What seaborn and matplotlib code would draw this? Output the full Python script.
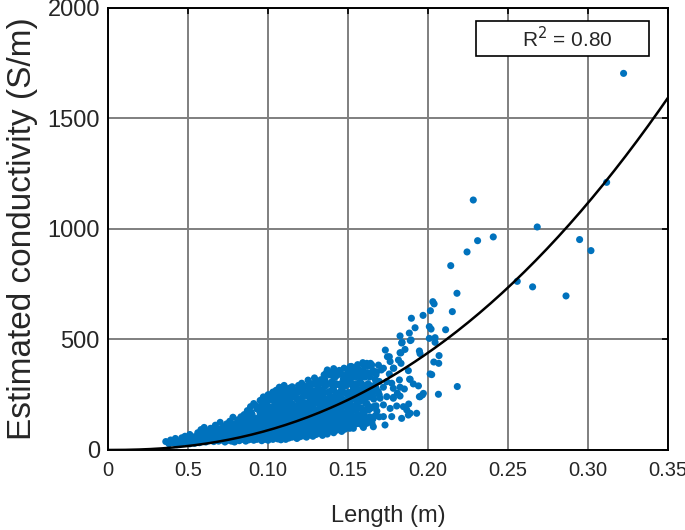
import numpy as np
import pandas as pd
import matplotlib
matplotlib.use("Agg")
import matplotlib.pyplot as plt
import seaborn as sns
from matplotlib.patches import Rectangle

# --- data (length in m, conductivity in S/m) ---
pts_short = [
    (0.036, 38), (0.038, 28), (0.039, 45), (0.041, 32), (0.042, 52), (0.043, 24), (0.044, 40),
    (0.046, 30), (0.046, 55), (0.047, 42), (0.048, 62), (0.049, 35), (0.050, 48), (0.051, 28),
    (0.051, 70), (0.052, 52), (0.053, 38), (0.054, 60), (0.054, 30),
    (0.056, 44), (0.056, 78), (0.057, 33), (0.057, 58), (0.058, 92), (0.059, 40), (0.059, 66),
    (0.060, 50), (0.060, 102), (0.061, 36), (0.061, 74), (0.062, 56), (0.062, 85), (0.063, 42),
    (0.063, 64), (0.064, 98), (0.064, 50), (0.065, 72),
    (0.066, 38), (0.066, 60), (0.066, 88), (0.067, 48), (0.067, 112), (0.068, 70), (0.068, 54),
    (0.069, 95), (0.069, 40), (0.070, 78), (0.070, 62), (0.070, 125), (0.071, 45), (0.071, 86),
    (0.072, 58), (0.072, 105), (0.073, 36), (0.073, 68), (0.073, 92), (0.074, 52), (0.074, 118),
    (0.074, 76), (0.075, 44), (0.075, 100),
    (0.076, 58), (0.076, 84), (0.076, 130), (0.077, 40), (0.077, 66), (0.077, 108), (0.078, 50),
    (0.078, 90), (0.078, 148), (0.079, 72), (0.079, 36), (0.079, 118), (0.080, 60), (0.080, 96),
    (0.080, 46), (0.081, 80), (0.081, 136), (0.081, 64), (0.082, 42), (0.082, 104), (0.082, 88),
    (0.083, 56), (0.083, 150), (0.083, 74), (0.084, 98), (0.084, 48), (0.084, 122), (0.084, 68),
    (0.085, 84), (0.085, 160), (0.085, 54), (0.085, 110),
]

pts_mid = [
    (0.086, 40), (0.086, 66), (0.086, 94), (0.086, 138), (0.087, 52), (0.087, 78), (0.087, 116),
    (0.087, 178), (0.088, 60), (0.088, 88), (0.088, 150), (0.088, 46), (0.089, 72), (0.089, 104),
    (0.089, 196), (0.089, 128), (0.090, 56), (0.090, 84), (0.090, 64), (0.090, 160), (0.091, 44),
    (0.091, 96), (0.091, 120), (0.091, 210), (0.092, 70), (0.092, 58), (0.092, 142), (0.092, 90),
    (0.093, 48), (0.093, 110), (0.093, 80), (0.093, 186), (0.094, 62), (0.094, 132), (0.094, 100),
    (0.094, 74), (0.095, 52), (0.095, 168), (0.095, 88), (0.095, 224),
    (0.096, 42), (0.096, 70), (0.096, 112), (0.096, 150), (0.096, 200), (0.097, 58), (0.097, 92),
    (0.097, 130), (0.097, 240), (0.098, 48), (0.098, 80), (0.098, 104), (0.098, 176), (0.098, 66),
    (0.099, 60), (0.099, 122), (0.099, 214), (0.099, 96), (0.099, 140), (0.100, 44), (0.100, 76),
    (0.100, 160), (0.100, 250), (0.100, 108), (0.101, 54), (0.101, 88), (0.101, 132), (0.101, 190),
    (0.101, 70), (0.102, 62), (0.102, 100), (0.102, 226), (0.102, 150), (0.102, 118), (0.103, 48),
    (0.103, 84), (0.103, 170), (0.103, 262), (0.103, 136), (0.104, 58), (0.104, 96), (0.104, 204),
    (0.104, 74), (0.104, 124), (0.105, 66), (0.105, 112), (0.105, 182), (0.105, 270),
    (0.106, 50), (0.106, 88), (0.106, 140), (0.106, 236), (0.106, 72),
    (0.107, 60), (0.107, 104), (0.107, 166), (0.107, 284), (0.107, 126),
    (0.108, 46), (0.108, 80), (0.108, 150), (0.108, 212), (0.108, 96),
    (0.109, 66), (0.109, 118), (0.109, 180), (0.109, 258), (0.109, 84),
    (0.110, 56), (0.110, 100), (0.110, 136), (0.110, 292), (0.110, 200),
    (0.111, 72), (0.111, 92), (0.111, 160), (0.111, 240), (0.111, 48),
    (0.112, 62), (0.112, 112), (0.112, 188), (0.112, 276), (0.112, 130),
    (0.113, 78), (0.113, 98), (0.113, 150), (0.113, 222), (0.113, 54),
    (0.114, 68), (0.114, 120), (0.114, 174), (0.114, 264), (0.114, 88),
    (0.115, 58), (0.115, 106), (0.115, 144), (0.115, 208), (0.115, 286),
    (0.116, 74), (0.116, 94), (0.116, 162), (0.116, 246), (0.116, 124),
    (0.117, 64), (0.117, 112), (0.117, 190), (0.117, 270), (0.117, 84),
    (0.118, 52), (0.118, 138), (0.118, 228), (0.119, 100), (0.119, 172), (0.119, 292),
]

pts_long = [
    (0.120, 60), (0.120, 96), (0.120, 150), (0.120, 230), (0.120, 118),
    (0.121, 72), (0.121, 130), (0.121, 196), (0.121, 302), (0.121, 88),
    (0.122, 64), (0.122, 108), (0.122, 168), (0.122, 260), (0.122, 140),
    (0.123, 80), (0.123, 120), (0.123, 214), (0.123, 288), (0.123, 98),
    (0.124, 58), (0.124, 154), (0.124, 184), (0.124, 246), (0.124, 112),
    (0.125, 76), (0.125, 128), (0.125, 200), (0.125, 316), (0.125, 92),
    (0.126, 68), (0.126, 144), (0.126, 170), (0.126, 272), (0.126, 104),
    (0.127, 84), (0.127, 118), (0.127, 226), (0.127, 300), (0.127, 158),
    (0.128, 62), (0.128, 136), (0.128, 190), (0.128, 256), (0.128, 98),
    (0.129, 90), (0.129, 124), (0.129, 176), (0.129, 326), (0.129, 212),
    (0.130, 70), (0.130, 150), (0.130, 236), (0.130, 110), (0.131, 86), (0.131, 162),
    (0.131, 284), (0.132, 76), (0.132, 130), (0.132, 204), (0.133, 96), (0.133, 182),
    (0.133, 318), (0.134, 66), (0.134, 144), (0.134, 250),
    (0.135, 80), (0.135, 116), (0.135, 172), (0.135, 230), (0.135, 340),
    (0.136, 94), (0.136, 140), (0.136, 196), (0.136, 290),
    (0.137, 72), (0.137, 126), (0.137, 214), (0.137, 362), (0.137, 160),
    (0.138, 104), (0.138, 148), (0.138, 262), (0.138, 186),
    (0.139, 86), (0.139, 132), (0.139, 240), (0.139, 350), (0.139, 112),
    (0.140, 98), (0.140, 170), (0.140, 206), (0.140, 310),
    (0.141, 78), (0.141, 124), (0.141, 150), (0.141, 270), (0.141, 368),
    (0.142, 108), (0.142, 190), (0.142, 226), (0.142, 330),
    (0.143, 90), (0.143, 138), (0.143, 176), (0.143, 252),
    (0.144, 116), (0.144, 160), (0.144, 296), (0.144, 212),
    (0.145, 100), (0.145, 144), (0.145, 238), (0.145, 356),
    (0.146, 84), (0.146, 126), (0.146, 198), (0.146, 276),
    (0.147, 110), (0.147, 168), (0.147, 320), (0.148, 94), (0.148, 222), (0.149, 150),
    (0.150, 120), (0.150, 182), (0.150, 260), (0.150, 360),
    (0.151, 98), (0.151, 146), (0.151, 214), (0.151, 320),
    (0.152, 130), (0.152, 236), (0.152, 378), (0.152, 170),
    (0.153, 108), (0.153, 196), (0.153, 286), (0.154, 140), (0.154, 250), (0.154, 344),
    (0.155, 118), (0.155, 178), (0.155, 300), (0.156, 156), (0.156, 226), (0.156, 386),
    (0.157, 128), (0.157, 270), (0.158, 190), (0.158, 330), (0.159, 110), (0.159, 244),
    (0.160, 160), (0.160, 384), (0.161, 210), (0.161, 290), (0.162, 136), (0.162, 350),
    (0.163, 182), (0.164, 260), (0.164, 392), (0.165, 120), (0.166, 230), (0.167, 318),
    (0.168, 176), (0.169, 384),
]

# extra points in the densest part of the cloud
pts_dense = [
    (0.0805, 70), (0.0805, 112), (0.0835, 62), (0.0835, 128), (0.0865, 84), (0.0865, 104),
    (0.0875, 140), (0.0875, 66), (0.0895, 90), (0.0895, 170), (0.0905, 110), (0.0905, 134),
    (0.0925, 76), (0.0925, 124), (0.0925, 200), (0.0945, 90), (0.0945, 150), (0.0945, 180),
    (0.0965, 84), (0.0965, 124), (0.0965, 176), (0.0975, 70), (0.0975, 110), (0.0975, 206),
    (0.0985, 92), (0.0985, 152), (0.0985, 228), (0.0995, 74), (0.0995, 182),
    (0.1005, 96), (0.1005, 124), (0.1005, 196), (0.1005, 230), (0.1015, 110), (0.1015, 160),
    (0.1015, 250), (0.1025, 80), (0.1025, 134), (0.1025, 180), (0.1035, 100), (0.1035, 150),
    (0.1035, 236), (0.1045, 86), (0.1045, 140), (0.1045, 246), (0.1055, 124), (0.1055, 160),
    (0.1055, 220), (0.1065, 104), (0.1065, 186), (0.1065, 262), (0.1075, 90), (0.1075, 140),
    (0.1075, 200), (0.1085, 112), (0.1085, 172), (0.1085, 240), (0.1095, 100), (0.1095, 150),
    (0.1095, 276), (0.1105, 80), (0.1105, 120), (0.1105, 176), (0.1105, 220), (0.1115, 110),
    (0.1115, 140), (0.1115, 204), (0.1125, 90), (0.1125, 160), (0.1125, 250), (0.1135, 126),
    (0.1135, 190), (0.1135, 280), (0.1145, 104), (0.1145, 140), (0.1145, 236), (0.1155, 82),
    (0.1155, 126), (0.1155, 180), (0.1165, 110), (0.1165, 200), (0.1165, 270), (0.1175, 96),
    (0.1175, 150), (0.1175, 236), (0.1185, 76), (0.1185, 120), (0.1185, 180), (0.1185, 260),
    (0.1195, 86), (0.1195, 140), (0.1195, 210), (0.1205, 106), (0.1205, 176), (0.1205, 270),
    (0.1215, 110), (0.1215, 160), (0.1215, 240), (0.1225, 90), (0.1225, 190), (0.1225, 290),
    (0.1235, 140), (0.1235, 170), (0.1235, 260), (0.1245, 96), (0.1245, 130), (0.1245, 210),
    (0.1255, 110), (0.1255, 160), (0.1255, 240), (0.1255, 290), (0.1265, 124), (0.1265, 190),
    (0.1265, 250), (0.1275, 100), (0.1275, 140), (0.1275, 200), (0.1275, 270), (0.1285, 114),
    (0.1285, 160), (0.1285, 230), (0.1285, 300), (0.1295, 106), (0.1295, 150), (0.1295, 256),
    (0.1305, 90), (0.1305, 130), (0.1305, 180), (0.1305, 270), (0.1305, 310), (0.1315, 110),
    (0.1315, 140), (0.1315, 210), (0.1315, 240), (0.1325, 100), (0.1325, 160), (0.1325, 256),
    (0.1325, 300), (0.1335, 120), (0.1335, 150), (0.1335, 220), (0.1335, 270), (0.1345, 90),
    (0.1345, 180), (0.1345, 210), (0.1345, 300), (0.1355, 104), (0.1355, 150), (0.1355, 260),
    (0.1355, 320), (0.1365, 120), (0.1365, 170), (0.1365, 230), (0.1365, 350), (0.1375, 100),
    (0.1375, 190), (0.1375, 260), (0.1375, 300), (0.1385, 120), (0.1385, 166), (0.1385, 220),
    (0.1385, 340), (0.1395, 150), (0.1395, 190), (0.1395, 270), (0.1395, 300), (0.1405, 120),
    (0.1405, 140), (0.1405, 240), (0.1405, 340), (0.1415, 100), (0.1415, 200), (0.1415, 290),
    (0.1415, 360), (0.1425, 130), (0.1425, 160), (0.1425, 250), (0.1425, 300), (0.1435, 110),
    (0.1435, 200), (0.1435, 230), (0.1435, 340), (0.1445, 136), (0.1445, 180), (0.1445, 260),
    (0.1445, 360), (0.1455, 120), (0.1455, 190), (0.1455, 300), (0.1465, 100), (0.1465, 160),
    (0.1465, 230), (0.1465, 340), (0.1475, 130), (0.1475, 200), (0.1475, 260), (0.1475, 370),
    (0.1485, 120), (0.1485, 170), (0.1485, 290), (0.1485, 340), (0.1495, 110), (0.1495, 200),
    (0.1495, 250), (0.1495, 310), (0.1505, 140), (0.1505, 230), (0.1505, 300), (0.1505, 340),
    (0.1515, 170), (0.1515, 260), (0.1515, 350), (0.1525, 110), (0.1525, 200), (0.1525, 300),
    (0.1535, 150), (0.1535, 230), (0.1535, 330), (0.1545, 180), (0.1545, 280), (0.1545, 370),
    (0.1555, 140), (0.1555, 210), (0.1555, 260), (0.1565, 120), (0.1565, 190), (0.1565, 300),
    (0.1565, 350), (0.1575, 160), (0.1575, 220), (0.1575, 360), (0.1585, 130), (0.1585, 250),
    (0.1585, 300), (0.1595, 180), (0.1595, 280), (0.1595, 360), (0.1605, 140), (0.1605, 230),
    (0.1605, 330), (0.1615, 120), (0.1615, 180), (0.1615, 250), (0.1625, 200), (0.1625, 300),
    (0.1625, 380), (0.1635, 150), (0.1635, 240), (0.1635, 330), (0.1645, 190), (0.1645, 290),
    (0.1655, 140), (0.1655, 260), (0.1655, 360), (0.1675, 200), (0.1675, 280), (0.1675, 340),
    (0.1695, 150), (0.1695, 250), (0.1695, 310),
]

pts_tail = [
    (0.1592, 395), (0.1617, 392), (0.1648, 385), (0.1558, 380), (0.1513, 377), (0.1533, 362),
    (0.1721, 370), (0.1679, 354), (0.1638, 347), (0.1596, 339), (0.1783, 370), (0.1758, 344),
    (0.1554, 332), (0.1575, 309), (0.1513, 317), (0.1742, 309), (0.1773, 302), (0.1821, 317),
    (0.1825, 284), (0.1783, 279), (0.1721, 284), (0.1888, 320), (0.1940, 290), (0.1669, 294),
    (0.1638, 279), (0.1606, 271), (0.1689, 264), (0.1533, 271), (0.1554, 256), (0.1513, 249),
    (0.1575, 241), (0.1658, 241), (0.1700, 234), (0.1742, 241), (0.1783, 238), (0.1825, 244),
    (0.1971, 256), (0.1950, 241), (0.2065, 252), (0.1617, 211), (0.1658, 196), (0.1721, 204),
    (0.1763, 188), (0.1804, 199), (0.1846, 196), (0.1867, 181), (0.1888, 166), (0.1835, 143),
    (0.1773, 151), (0.1721, 151), (0.1669, 154), (0.1638, 136), (0.1585, 143), (0.1544, 128),
    (0.1513, 121), (0.1929, 166), (0.1877, 158), (0.1658, 105), (0.1596, 102), (0.1533, 98),
    (0.1731, 113), (0.1733, 452), (0.1825, 440), (0.1758, 422), (0.1763, 400), (0.1815, 407),
    (0.1831, 392), (0.1877, 359), (0.1786, 370), (0.1708, 362), (0.2013, 344), (0.2067, 392),
    (0.1838, 487), (0.1894, 498), (0.1746, 422), (0.1852, 276), (0.1965, 249), (0.1946, 241),
    (0.1879, 208), (0.1808, 257), (0.1783, 234),
]

pts_upper = [
    (0.2030, 671), (0.2038, 661), (0.2015, 630), (0.1969, 609), (0.1896, 596), (0.1919, 553),
    (0.2008, 558), (0.2019, 547), (0.2110, 544), (0.1883, 529), (0.1825, 516), (0.2008, 505),
    (0.2044, 508), (0.2044, 487), (0.1889, 495), (0.1835, 484), (0.1856, 455), (0.1946, 448),
    (0.1950, 436), (0.1830, 439), (0.2069, 427), (0.2036, 398), (0.2023, 341), (0.1885, 320),
    (0.1908, 299), (0.2183, 287), (0.2152, 626), (0.2181, 709), (0.2142, 834),
]

pts_outliers = [
    (0.2244, 896), (0.2283, 1131), (0.2310, 947), (0.2408, 964), (0.2558, 763), (0.2654, 738),
    (0.2683, 1009), (0.2863, 697), (0.2948, 952), (0.3019, 902), (0.3117, 1211), (0.3223, 1704),
]

# power-law fit shown on the chart: sigma = fit_a * L ** fit_b
fit_a = 17820.0
fit_b = 2.3
r2_text = "R$^2$ = 0.80"

x_ticks = [0, 0.05, 0.10, 0.15, 0.20, 0.25, 0.30, 0.35]
x_ticklabels = ["0", "0.5", "0.10", "0.15", "0.20", "0.25", "0.30", "0.35"]
y_ticks = [0, 500, 1000, 1500, 2000]

all_pts = pts_short + pts_mid + pts_long + pts_dense + pts_tail + pts_upper + pts_outliers
df = pd.DataFrame(all_pts, columns=["length", "conductivity"])

fit_x = np.linspace(0, 0.35, 200)
fit_df = pd.DataFrame({"length": fit_x, "conductivity": fit_a * fit_x ** fit_b})

sns.set_theme(style="white")
plt.rcParams["font.family"] = ["Liberation Sans", "DejaVu Sans"]
text_color = "#262626"

fig, ax = plt.subplots(figsize=(6.85, 5.3), dpi=100)
fig.subplots_adjust(left=0.158, right=0.975, top=0.985, bottom=0.151)

sns.scatterplot(data=df, x="length", y="conductivity", ax=ax, s=26,
                color="#0072BD", edgecolor="none", linewidth=0, zorder=3)
sns.lineplot(data=fit_df, x="length", y="conductivity", ax=ax,
             color="black", linewidth=1.8, zorder=4)

ax.set_xlim(0, 0.35)
ax.set_ylim(0, 2000)
ax.set_xticks(x_ticks)
ax.set_xticklabels(x_ticklabels)
ax.set_yticks(y_ticks)
ax.grid(True, color="#7f7f7f", linewidth=1.4)
ax.set_axisbelow(True)
for sp in ax.spines.values():
    sp.set_visible(True)
    sp.set_color("black")
    sp.set_linewidth(1.4)
ax.tick_params(direction="in", top=True, right=True, length=4, width=1.2,
               colors=text_color)
ax.tick_params(axis="both", color="black")
ax.tick_params(axis="x", labelsize=14.5, pad=8)
ax.tick_params(axis="y", labelsize=17, pad=6)
ax.set_xlabel("Length (m)", fontsize=17, color=text_color, labelpad=18)
ax.set_ylabel("Estimated conductivity (S/m)", fontsize=24, color=text_color, labelpad=7)

# R^2 box in the upper right
ax.add_patch(Rectangle((0.657, 0.891), 0.309, 0.079, transform=ax.transAxes,
                       facecolor="white", edgecolor="black", linewidth=1.2, zorder=5))
ax.text(0.821, 0.930, r2_text, transform=ax.transAxes, ha="center", va="center",
        fontsize=15, color=text_color, zorder=6)

fig.savefig("out.png", dpi=100)
